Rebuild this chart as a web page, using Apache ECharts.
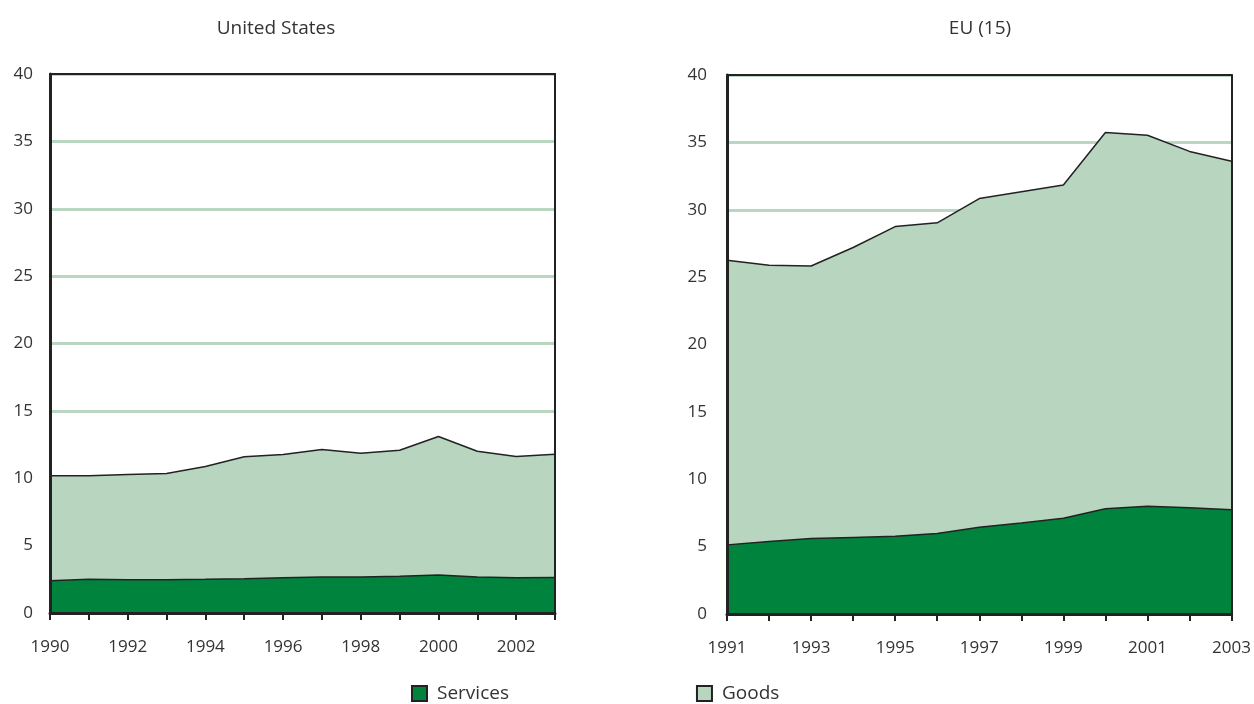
<!DOCTYPE html>
<html>
<head>
<meta charset="utf-8">
<script src="https://cdn.jsdelivr.net/npm/echarts@6/dist/echarts.min.js"></script>
<style>
html,body{margin:0;padding:0;background:#fff;}
#chart{width:1254px;height:704px;}
</style>
</head>
<body>
<div id="chart"></div>
<script>
// ---- data ----
const usYears = ['1990','1991','1992','1993','1994','1995','1996','1997','1998','1999','2000','2001','2002','2003'];
const usServices = [2.40,2.50,2.47,2.47,2.50,2.55,2.62,2.67,2.67,2.72,2.82,2.67,2.62,2.64];
const usGoods    = [7.78,7.68,7.81,7.88,8.37,9.04,9.14,9.46,9.19,9.36,10.28,9.33,8.99,9.15];

const euYears = ['1991','1992','1993','1994','1995','1996','1997','1998','1999','2000','2001','2002','2003'];
const euServices = [5.13,5.38,5.60,5.68,5.77,5.97,6.44,6.76,7.10,7.81,7.99,7.89,7.74];
const euGoods    = [21.12,20.50,20.23,21.52,22.98,23.06,24.39,24.57,24.73,27.92,27.54,26.44,25.86];

const titles = ['United States', 'EU (15)'];
const seriesNames = ['Services', 'Goods'];
const yMin = 0, yMax = 40, yStep = 5;

// ---- styles ----
const FONT = '"Open Sans", "Noto Sans", sans-serif';
const DARK = '#222222';
const TEXT = '#333333';
const C_SERV = '#00843d';
const C_GOODS = '#b8d5bf';
const C_GRID = '#b8d6c0';

const chart = echarts.init(document.getElementById('chart'));

function axesFor(gi, cats, labelMargin) {
  const x = [
    { gridIndex: gi, type: 'category', data: cats, boundaryGap: false, position: 'bottom', z: 10,
      axisLine: { onZero: false, lineStyle: { color: DARK, width: 3 } },
      axisTick: { show: true, inside: false, length: 7, interval: 0, lineStyle: { color: DARK, width: 2 } },
      axisLabel: { interval: function (i) { return i % 2 === 0; }, margin: 26, color: TEXT, fontSize: 17, fontFamily: FONT },
      splitLine: { show: false } },
    { gridIndex: gi, type: 'category', data: cats, boundaryGap: false, position: 'top', z: 10,
      axisLine: { onZero: false, lineStyle: { color: DARK, width: 2 } },
      axisTick: { show: false }, axisLabel: { show: false }, splitLine: { show: false } }
  ];
  const y = [
    { gridIndex: gi, type: 'value', min: yMin, max: yMax, interval: yStep, position: 'left', z: 10,
      axisLine: { show: true, onZero: false, lineStyle: { color: DARK, width: 3 } },
      axisTick: { show: false },
      axisLabel: { margin: labelMargin, color: TEXT, fontSize: 17, fontFamily: FONT },
      splitLine: { show: false } },
    { gridIndex: gi, type: 'value', min: yMin, max: yMax, interval: yStep, position: 'right', z: 10,
      axisLine: { show: true, onZero: false, lineStyle: { color: DARK, width: 2 } },
      axisTick: { show: false }, axisLabel: { show: false }, splitLine: { show: false } },
    { gridIndex: gi, type: 'value', min: yMin, max: yMax, interval: yStep, position: 'left', z: 0,
      axisLine: { show: false }, axisTick: { show: false }, axisLabel: { show: false },
      splitLine: { show: true, lineStyle: { color: C_GRID, width: 3 } } }
  ];
  return { x, y };
}

const a0 = axesFor(0, usYears, 17);
const a1 = axesFor(1, euYears, 20);

function seriesFor(xi, yi, serv, goods) {
  return [
    { name: seriesNames[0], type: 'line', xAxisIndex: xi, yAxisIndex: yi, stack: 's' + xi,
      data: serv, symbol: 'none', z: 3,
      lineStyle: { color: DARK, width: 1.5 },
      itemStyle: { color: C_SERV },
      areaStyle: { color: C_SERV, opacity: 1 } },
    { name: seriesNames[1], type: 'line', xAxisIndex: xi, yAxisIndex: yi, stack: 's' + xi,
      data: goods, symbol: 'none', z: 2,
      lineStyle: { color: DARK, width: 1.5 },
      itemStyle: { color: C_GOODS },
      areaStyle: { color: C_GOODS, opacity: 1 } }
  ];
}

chart.setOption({
  animation: false,
  backgroundColor: '#ffffff',
  title: [
    { text: titles[0], left: 276, top: 19, padding: 0, textAlign: 'center',
      textStyle: { fontSize: 19, fontWeight: 'normal', color: TEXT, fontFamily: FONT } },
    { text: titles[1], left: 980, top: 19, padding: 0, textAlign: 'center',
      textStyle: { fontSize: 19, fontWeight: 'normal', color: TEXT, fontFamily: FONT } }
  ],
  legend: {
    data: seriesNames, left: 411, top: 684, padding: 0, icon: 'rect', itemWidth: 15, itemHeight: 15, itemGap: 187,
    itemStyle: { borderColor: DARK, borderWidth: 2 },
    textStyle: { fontSize: 19, color: TEXT, fontFamily: FONT, padding: [0, 0, 0, 5] }
  },
  grid: [
    { left: 50, right: 699, top: 74, bottom: 91, containLabel: false },
    { left: 727, right: 22, top: 75, bottom: 90, containLabel: false }
  ],
  xAxis: [...a0.x, ...a1.x],
  yAxis: [...a0.y, ...a1.y],
  series: [
    ...seriesFor(0, 0, usServices, usGoods),
    ...seriesFor(2, 3, euServices, euGoods)
  ]
});
</script>
</body>
</html>
